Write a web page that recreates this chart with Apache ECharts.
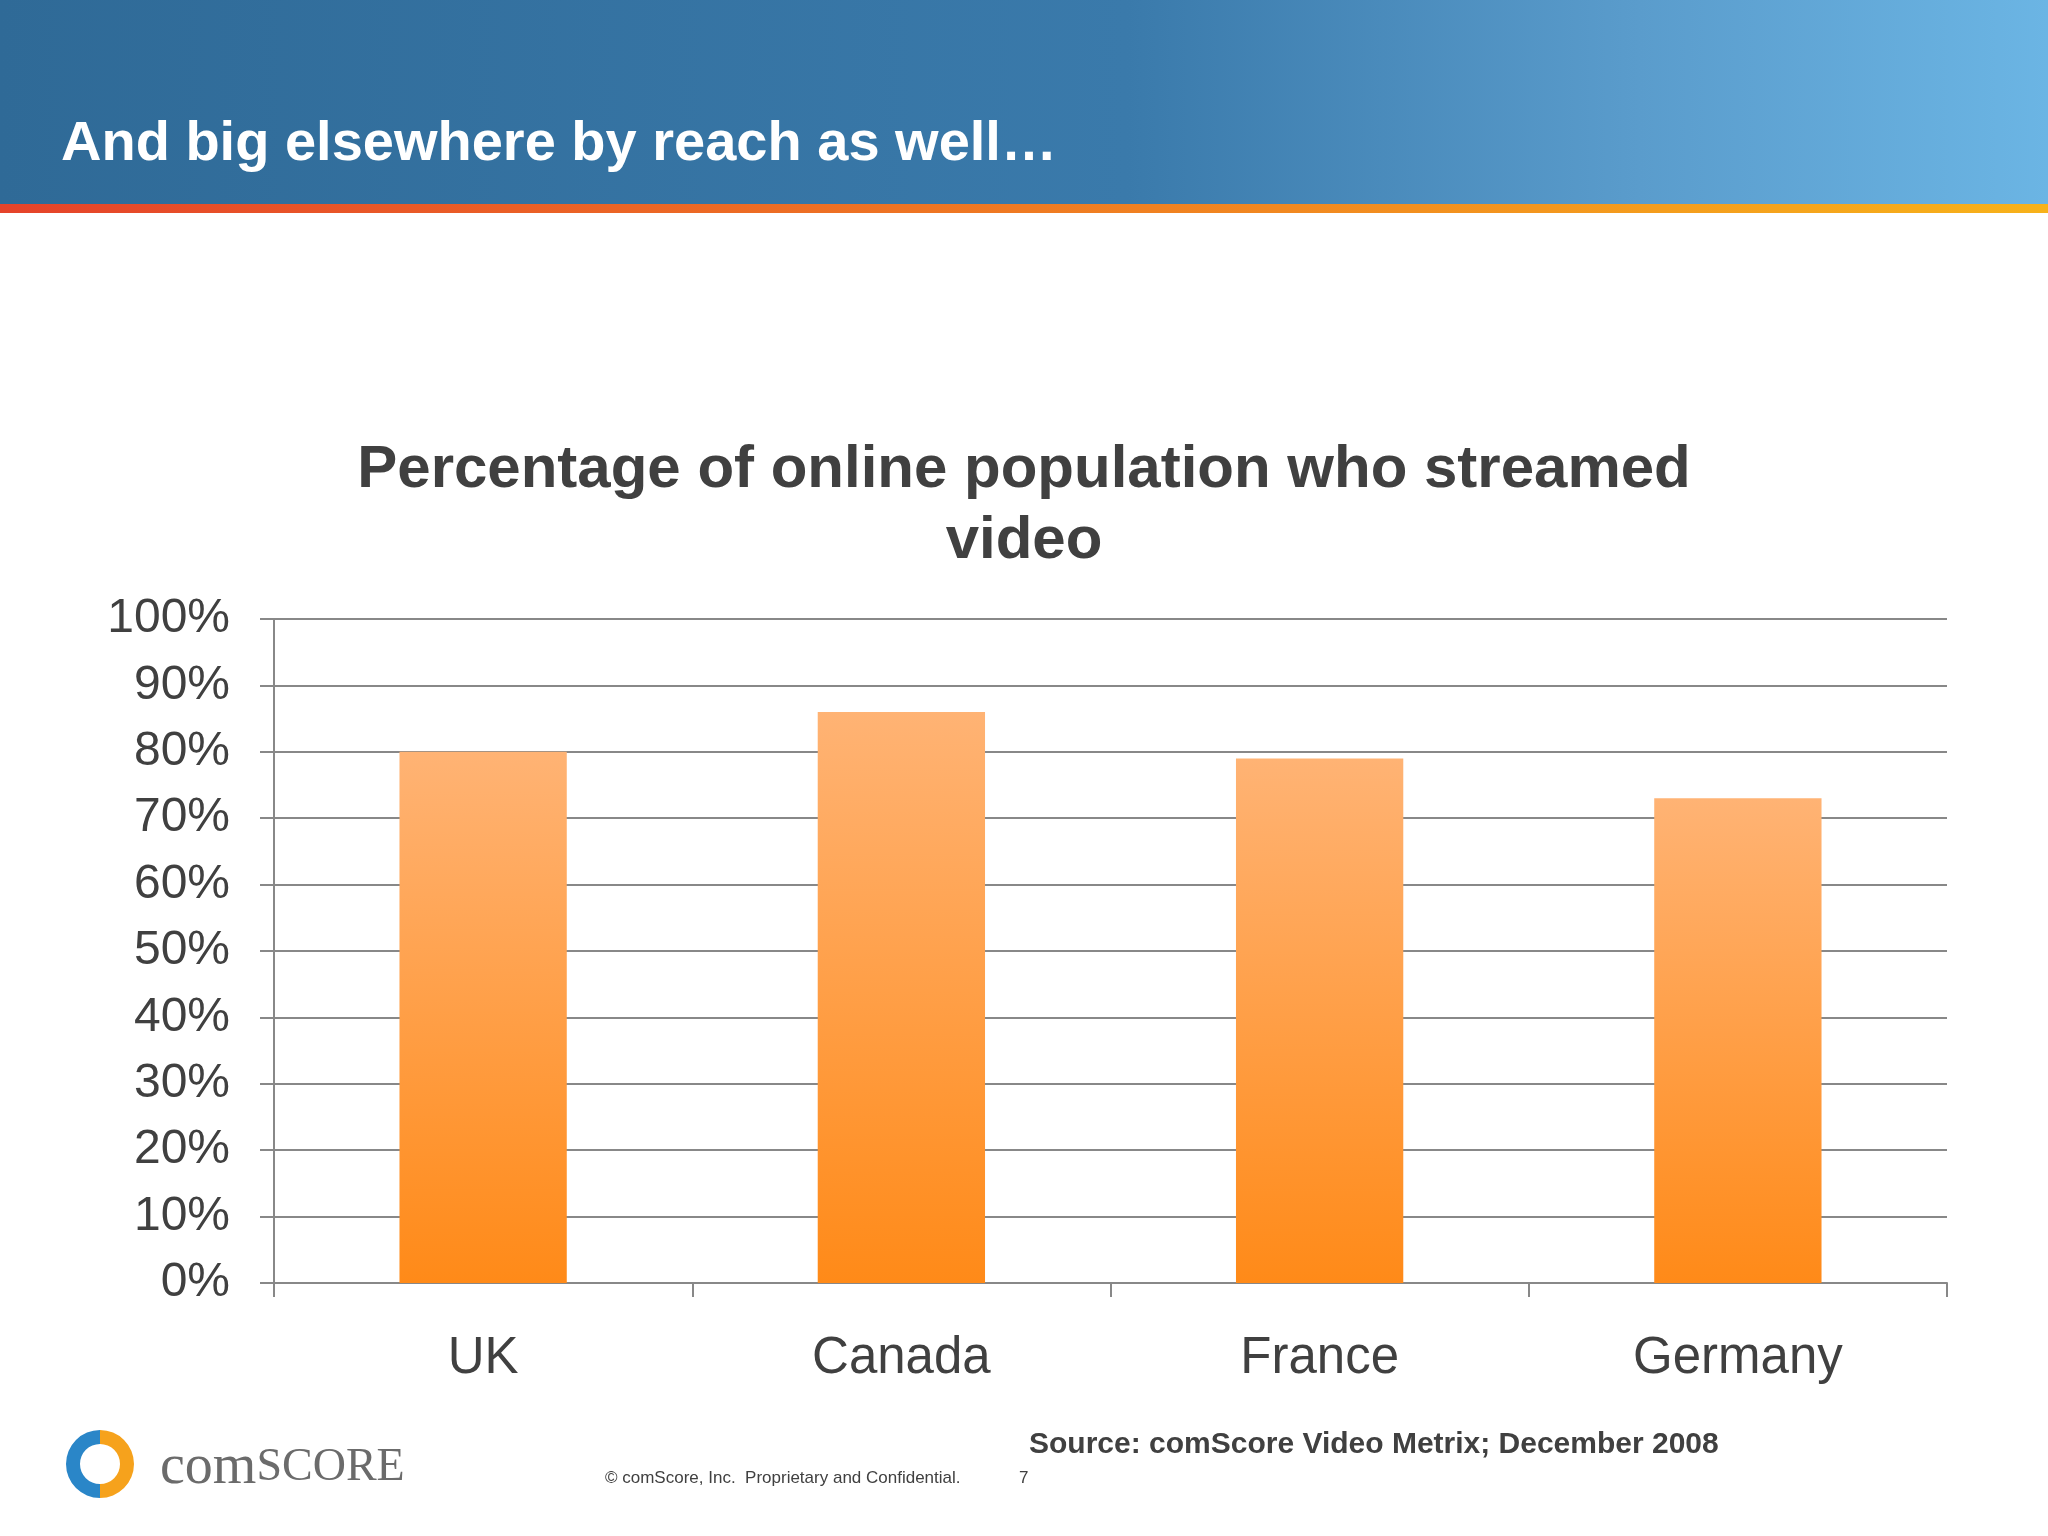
<!DOCTYPE html>
<html>
<head>
<meta charset="utf-8">
<style>html,body{margin:0;padding:0;background:#fff}#chart{width:2048px;height:1536px}</style>
<script src="https://cdn.jsdelivr.net/npm/echarts@6/dist/echarts.min.js"></script>
</head>
<body>
<div id="chart"></div>
<script>
// data
var countries = ['UK', 'Canada', 'France', 'Germany'];
var reach = [80, 86, 79, 73];
var yTicks = [0, 10, 20, 30, 40, 50, 60, 70, 80, 90, 100];

var chart = echarts.init(document.getElementById('chart'));
var font = 'Liberation Sans, Arial, sans-serif';

var option = {
    animation: false,
    title: {
        text: 'Percentage of online population who streamed\nvideo',
        left: 'center',
        top: 430,
        textStyle: {fontFamily: font, fontSize: 60, fontWeight: 'bold', color: '#404040', lineHeight: 71}
    },
    grid: {left: 274, right: 101, top: 619, bottom: 253},
    xAxis: {
        type: 'category',
        data: countries,
        axisLine: {lineStyle: {color: '#888', width: 2}},
        axisTick: {show: true, length: 14, inside: false, lineStyle: {color: '#888', width: 2}},
        axisLabel: {fontFamily: font, fontSize: 51, color: '#404040', margin: 50}
    },
    yAxis: {
        type: 'value',
        min: yTicks[0],
        max: yTicks[yTicks.length - 1],
        interval: 10,
        axisLine: {show: true, lineStyle: {color: '#888', width: 2}},
        axisTick: {show: true, length: 14, lineStyle: {color: '#888', width: 2}},
        splitLine: {lineStyle: {color: '#888', width: 2}},
        axisLabel: {fontFamily: font, fontSize: 48, color: '#404040', margin: 44, formatter: '{value}%'}
    },
    series: [{
        type: 'bar',
        data: reach,
        barWidth: '40%',
        itemStyle: {
            color: new echarts.graphic.LinearGradient(0, 0, 0, 1, [
                {offset: 0, color: '#ffb374'},
                {offset: 1, color: '#ff8a18'}
            ])
        }
    }],
    graphic: [
        {type: 'rect', shape: {x: 0, y: 0, width: 2048, height: 206}, z: -1,
         style: {fill: new echarts.graphic.LinearGradient(0, 0, 1, 0, [
             {offset: 0, color: '#2f6a97'}, {offset: 0.55, color: '#3a7aab'},
             {offset: 0.8, color: '#5a9ccc'}, {offset: 1, color: '#6bb5e4'}])}},
        {type: 'rect', shape: {x: 0, y: 204, width: 2048, height: 9},
         style: {fill: new echarts.graphic.LinearGradient(0, 0, 1, 0, [
             {offset: 0, color: '#e5432a'}, {offset: 0.5, color: '#ef7a22'}, {offset: 1, color: '#f7b21a'}])}},
        {type: 'text', left: 61, top: 117,
         style: {text: 'And big elsewhere by reach as well…', fill: '#fff', font: 'bold 56px ' + font}},
        {type: 'text', left: 1029, top: 1430,
         style: {text: 'Source: comScore Video Metrix; December 2008', fill: '#404040', font: 'bold 30px ' + font}},
        {type: 'text', left: 605, top: 1470,
         style: {text: '© comScore, Inc.  Proprietary and Confidential.', fill: '#404040', font: '17px ' + font}},
        {type: 'text', left: 1019, top: 1470,
         style: {text: '7', fill: '#404040', font: '17px ' + font}},
        {type: 'sector', shape: {cx: 100, cy: 1464, r0: 20, r: 34, startAngle: Math.PI * 0.5, endAngle: Math.PI * 1.5}, style: {fill: '#2a86c8'}},
        {type: 'sector', shape: {cx: 100, cy: 1464, r0: 20, r: 34, startAngle: -Math.PI * 0.5, endAngle: Math.PI * 0.5}, style: {fill: '#f6a21c'}},
        {type: 'text', left: 160, top: 1440,
         style: {text: '{a|com}{b|SCORE}', fill: '#6b6b6b', rich: {
             a: {font: '56px Liberation Serif, serif', fill: '#6b6b6b'},
             b: {font: '46px Liberation Serif, serif', fill: '#6b6b6b'}}}}
    ]
};
chart.setOption(option);
</script>
</body>
</html>
